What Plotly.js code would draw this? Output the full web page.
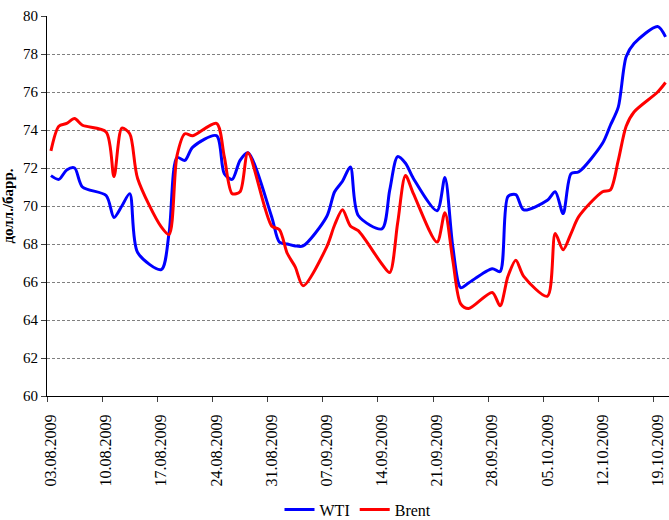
<!DOCTYPE html>
<html>
<head>
<meta charset="utf-8">
<script src="https://cdn.plot.ly/plotly-3.0.1.min.js"></script>
<style>html,body{margin:0;padding:0;background:#fff;}#chart{width:669px;height:520px;}</style>
</head>
<body>
<div id="chart"></div>
<script>
// Trading days (dd.mm.yyyy)
var dates = [
  "03.08.2009","04.08.2009","05.08.2009","06.08.2009","07.08.2009",
  "10.08.2009","11.08.2009","12.08.2009","13.08.2009","14.08.2009",
  "17.08.2009","18.08.2009","19.08.2009","20.08.2009","21.08.2009",
  "24.08.2009","25.08.2009","26.08.2009","27.08.2009","28.08.2009",
  "31.08.2009","01.09.2009","02.09.2009","03.09.2009","04.09.2009",
  "07.09.2009","08.09.2009","09.09.2009","10.09.2009","11.09.2009",
  "14.09.2009","15.09.2009","16.09.2009","17.09.2009","18.09.2009",
  "21.09.2009","22.09.2009","23.09.2009","24.09.2009","25.09.2009",
  "28.09.2009","29.09.2009","30.09.2009","01.10.2009","02.10.2009",
  "05.10.2009","06.10.2009","07.10.2009","08.10.2009","09.10.2009",
  "12.10.2009","13.10.2009","14.10.2009","15.10.2009","16.10.2009",
  "19.10.2009","20.10.2009"
];
var wti = [
  71.6, 71.4, 71.9, 72.0, 71.0,
  70.55, 69.4, 70.0, 70.65, 67.55,
  66.65, 68.6, 72.55, 72.4, 73.1,
  73.7, 71.7, 71.4, 72.4, 72.8,
  69.45, 68.1, 68.0, 67.9, 67.9,
  69.45, 70.75, 71.3, 72.05, 69.5,
  68.8, 70.85, 72.6, 72.25, 71.45,
  69.75, 71.5, 67.85, 65.7, 65.95,
  66.7, 66.55, 70.5, 70.6, 69.8,
  70.3, 70.75, 69.6, 71.7, 71.8,
  73.3, 74.25, 75.2, 77.85, 78.55,
  79.45, 78.9
];
var brent = [
  72.9, 74.2, 74.35, 74.6, 74.25,
  73.9, 71.55, 74.1, 73.8, 71.45,
  68.9, 68.5, 72.65, 73.8, 73.7,
  74.35, 72.6, 70.65, 70.75, 72.8,
  68.95, 68.75, 67.5, 66.8, 65.8,
  67.85, 69.0, 69.8, 68.95, 68.7,
  66.95, 66.5, 69.1, 71.6, 70.65,
  68.1, 69.65, 67.15, 64.85, 64.6,
  65.45, 64.75, 66.3, 67.15, 66.3,
  65.25, 68.55, 67.7, 68.55, 69.45,
  70.75, 70.85, 72.4, 74.2, 74.95,
  76.0, 76.5
];
var weekLabels = ["03.08.2009","10.08.2009","17.08.2009","24.08.2009","31.08.2009","07.09.2009",
  "14.09.2009","21.09.2009","28.09.2009","05.10.2009","12.10.2009","19.10.2009"];
var seriesNames = ["WTI", "Brent"];
var yTitle = "долл./барр.";

function iso(s) { var p = s.split("."); return p[2] + "-" + p[1] + "-" + p[0]; }
var xs = dates.map(function (s) { return iso(s) + " 12:00"; });
var tickMid = weekLabels.map(function (s) { return iso(s) + " 12:00"; });
var tickEdge = weekLabels.map(function (s) { return iso(s) + " 00:00"; });

var serif = "'Liberation Serif', 'Times New Roman', Times, serif";

var traces = [
  { x: xs, y: wti, name: seriesNames[0], type: "scatter", mode: "lines",
    line: { color: "#0000FF", width: 3, shape: "spline", smoothing: 0.8 } },
  { x: xs, y: brent, name: seriesNames[1], type: "scatter", mode: "lines",
    line: { color: "#FF0000", width: 3, shape: "spline", smoothing: 0.8 } }
];

var layout = {
  width: 669, height: 520,
  margin: { l: 47, r: 0, t: 16, b: 124, pad: 0, autoexpand: false },
  paper_bgcolor: "#fff", plot_bgcolor: "#fff",
  font: { family: serif, size: 15, color: "#000" },
  showlegend: true,
  legend: { orientation: "h", x: 0.5, xanchor: "center", yref: "container", y: 0.02, yanchor: "middle",
            font: { family: serif, size: 16, color: "#000" }, itemwidth: 30,
            tracegroupgap: 0, bgcolor: "rgba(0,0,0,0)" },
  xaxis: {
    type: "date", automargin: false,
    range: ["2009-08-03 00:00", "2009-10-20 22:30"],
    tickmode: "array", tickvals: tickMid, ticktext: weekLabels,
    tickangle: -90, ticks: "outside", ticklen: 11, tickcolor: "rgba(0,0,0,0)",
    tickfont: { family: serif, size: 16, color: "#000" },
    minor: { tickmode: "array", tickvals: tickEdge, ticks: "outside", ticklen: 5,
             tickcolor: "#404040", tickwidth: 1, showgrid: false },
    showline: true, linecolor: "#000", linewidth: 1,
    showgrid: false, zeroline: false, fixedrange: true
  },
  yaxis: {
    automargin: false,
    range: [60, 80], dtick: 2, tick0: 60,
    ticks: "outside", ticklen: 5, tickcolor: "#404040", tickwidth: 1,
    tickfont: { family: serif, size: 15, color: "#000" },
    showline: true, linecolor: "#000", linewidth: 1,
    showgrid: true, gridcolor: "#808080", gridwidth: 1, griddash: "3px,2px",
    zeroline: false,
    title: { text: yTitle, standoff: 7, font: { family: serif, size: 15, color: "#000", weight: "bold" } }
  }
};

Plotly.newPlot("chart", traces, layout, { staticPlot: true, displayModeBar: false });
</script>
</body>
</html>
